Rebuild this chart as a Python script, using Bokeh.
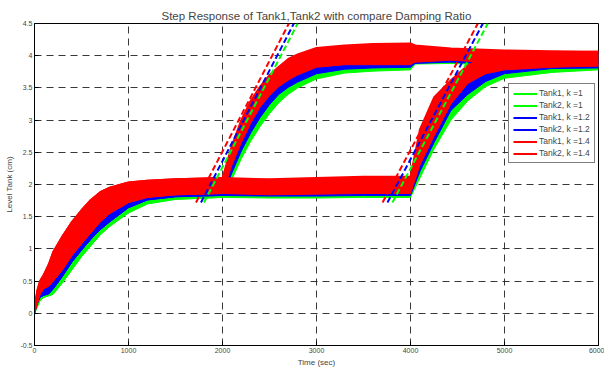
from bokeh.plotting import figure
from bokeh.models import Range1d, Legend, LegendItem, FixedTicker
from bokeh.embed import file_html
from bokeh.resources import INLINE

# ---------------- data ----------------
# Tank1: step 0->2 at t=0, 2->4 at t=2000
t_tank1 = [0, 30, 60, 100, 150, 200, 300, 400, 500, 600, 700, 800, 1000, 1200, 1500, 2000,
           2100, 2200, 2300, 2400, 2500, 2600, 2700, 2800, 3000, 3300, 3600, 4000,
           4050, 4430, 5000, 5500, 6000]
tank1_k14_lo = [0.0, 0.15, 0.30, 0.38, 0.42, 0.50, 0.68, 0.90, 1.08, 1.25, 1.42, 1.55, 1.72, 1.80, 1.84, 1.86,
                2.30, 2.65, 2.95, 3.20, 3.38, 3.52, 3.62, 3.70, 3.82, 3.86, 3.86, 3.86,
                3.90, 3.93, 3.88, 3.86, 3.84]
tank1_k14_hi = [0.05, 0.35, 0.50, 0.60, 0.75, 0.95, 1.20, 1.42, 1.60, 1.76, 1.88, 1.95, 2.03, 2.06, 2.08, 2.10,
                2.60, 3.00, 3.30, 3.52, 3.70, 3.83, 3.95, 4.02, 4.12, 4.16, 4.18, 4.19,
                4.16, 4.11, 4.08, 4.07, 4.06]
tank1_k12_lo = [0.0, 0.15, 0.25, 0.28, 0.30, 0.38, 0.58, 0.80, 0.98, 1.15, 1.30, 1.42, 1.64, 1.76, 1.81, 1.83,
                2.18, 2.52, 2.80, 3.04, 3.24, 3.40, 3.51, 3.59, 3.72, 3.79, 3.81, 3.82,
                3.88, 3.90, 3.86, 3.84, 3.83]
tank1_k12_hi = [0.03, 0.30, 0.40, 0.50, 0.62, 0.80, 1.05, 1.30, 1.48, 1.62, 1.75, 1.83, 1.93, 1.98, 2.02, 2.05,
                2.45, 2.82, 3.10, 3.32, 3.50, 3.63, 3.73, 3.80, 3.90, 3.98, 4.00, 4.02,
                4.06, 4.05, 4.04, 4.04, 4.04]
tank1_k1_lo = [0.0, 0.10, 0.20, 0.25, 0.27, 0.30, 0.48, 0.68, 0.88, 1.05, 1.22, 1.35, 1.56, 1.70, 1.77, 1.80,
               2.08, 2.40, 2.67, 2.90, 3.10, 3.27, 3.40, 3.50, 3.64, 3.73, 3.76, 3.78,
               3.87, 3.88, 3.85, 3.83, 3.82]
tank1_k1_hi = [0.02, 0.27, 0.30, 0.32, 0.45, 0.65, 0.92, 1.15, 1.35, 1.50, 1.62, 1.72, 1.85, 1.92, 1.97, 2.00,
               2.35, 2.68, 2.95, 3.18, 3.36, 3.50, 3.60, 3.68, 3.80, 3.92, 3.96, 3.98,
               4.03, 4.03, 4.02, 4.02, 4.02]

# Tank2: step 0->2 at t=0, 2->4 at t=4000
t_tank2 = [0, 30, 60, 100, 150, 200, 300, 400, 500, 600, 700, 800, 1000, 1200, 1500, 2000,
           2500, 3000, 3500, 4000, 4100, 4250, 4430, 4610, 4800, 5000, 5500, 6000]
tank2_k14_lo = [0.0, 0.15, 0.30, 0.38, 0.42, 0.50, 0.68, 0.90, 1.08, 1.25, 1.42, 1.55, 1.72, 1.80, 1.84, 1.86,
                1.84, 1.85, 1.86, 1.86, 2.30, 2.75, 3.25, 3.57, 3.72, 3.78, 3.82, 3.84]
tank2_k14_hi = [0.05, 0.35, 0.50, 0.60, 0.75, 0.95, 1.20, 1.42, 1.60, 1.76, 1.88, 1.95, 2.03, 2.06, 2.08, 2.10,
                2.08, 2.10, 2.12, 2.12, 2.85, 3.35, 3.62, 3.85, 3.98, 4.03, 4.05, 4.06]
tank2_k12_lo = [0.0, 0.15, 0.25, 0.28, 0.30, 0.38, 0.58, 0.80, 0.98, 1.15, 1.30, 1.42, 1.64, 1.76, 1.81, 1.83,
                1.82, 1.82, 1.83, 1.83, 2.20, 2.65, 3.15, 3.40, 3.60, 3.72, 3.80, 3.81]
tank2_k12_hi = [0.03, 0.30, 0.40, 0.50, 0.62, 0.80, 1.05, 1.30, 1.48, 1.62, 1.75, 1.83, 1.93, 1.98, 2.02, 2.05,
                2.04, 2.05, 2.06, 2.06, 2.60, 3.00, 3.30, 3.60, 3.75, 3.82, 3.88, 3.90]
tank2_k1_lo = [0.0, 0.10, 0.20, 0.25, 0.27, 0.30, 0.48, 0.68, 0.88, 1.05, 1.22, 1.35, 1.56, 1.70, 1.77, 1.80,
               1.79, 1.79, 1.80, 1.80, 2.10, 2.55, 3.00, 3.30, 3.52, 3.65, 3.74, 3.78]
tank2_k1_hi = [0.02, 0.27, 0.30, 0.32, 0.45, 0.65, 0.92, 1.15, 1.35, 1.50, 1.62, 1.72, 1.85, 1.92, 1.97, 2.00,
               1.99, 2.00, 2.01, 2.01, 2.45, 2.90, 3.20, 3.48, 3.68, 3.76, 3.83, 3.86]

# dashed tangent lines (order: k=1, k=1.2, k=1.4)
tan1_t_start = [1803, 1771, 1718]
tan1_t_end = [2800, 2759, 2706]
tan2_t_start = [3808, 3755, 3703]
tan2_t_end = [4822, 4770, 4716]
tan_y = [1.72, 4.5]

x_ticks = [0, 1000, 2000, 3000, 4000, 5000, 6000]
y_ticks = [-0.5, 0, 0.5, 1, 1.5, 2, 2.5, 3, 3.5, 4, 4.5]
y_tick_labels = {-0.5: "-0.5", 0: "0", 0.5: "0.5", 1: "1", 1.5: "1.5", 2: "2", 2.5: "2.5",
                 3: "3", 3.5: "3.5", 4: "4", 4.5: "4.5"}

colors = {"k1": "#00ff00", "k12": "#0000ff", "k14": "#ff0000"}
FONT = "Liberation Sans"

# ---------------- figure ----------------
p = figure(width=604, height=370, output_backend="svg", toolbar_location=None,
           x_range=Range1d(0, 6000), y_range=Range1d(-0.5, 4.5),
           min_border_left=34, min_border_right=6, min_border_bottom=25, min_border_top=23)
p.title.text = "Step Response of Tank1,Tank2 with compare Damping Ratio"
p.title.align = "center"
p.title.text_font = FONT
p.title.text_font_size = "11.5px"
p.title.text_font_style = "normal"
p.title.standoff = 4
p.title.offset = 0

p.background_fill_color = "white"
p.border_fill_color = "white"
p.outline_line_color = "black"
p.outline_line_width = 1

for ax in (p.xaxis[0], p.yaxis[0]):
    ax.axis_line_color = "black"
    ax.major_tick_in = 4
    ax.major_tick_out = 0
    ax.minor_tick_in = 0
    ax.minor_tick_out = 0
    ax.major_label_text_font = FONT
    ax.major_label_text_font_size = "7px"
    ax.axis_label_text_font = FONT
    ax.axis_label_text_font_size = "8px"
    ax.axis_label_text_font_style = "normal"

p.xaxis.ticker = FixedTicker(ticks=x_ticks)
p.yaxis.ticker = FixedTicker(ticks=y_ticks)
p.yaxis.major_label_overrides = y_tick_labels
p.xaxis.axis_label = "Time (sec)"
p.yaxis.axis_label = "Level Tank (cm)"
p.xaxis.major_label_standoff = 2
p.xaxis.axis_label_standoff = 2
p.yaxis.major_label_standoff = 2
p.yaxis.axis_label_standoff = 3

for g in (p.xgrid[0], p.ygrid[0]):
    g.grid_line_color = "#222222"
    g.grid_line_dash = "7 5"
    g.grid_line_width = 1
    g.grid_line_alpha = 0.9

# ---------------- bands ----------------
series = [
    ("Tank1, k =1", t_tank1, tank1_k1_lo, tank1_k1_hi, colors["k1"]),
    ("Tank2, k =1", t_tank2, tank2_k1_lo, tank2_k1_hi, colors["k1"]),
    ("Tank1, k =1.2", t_tank1, tank1_k12_lo, tank1_k12_hi, colors["k12"]),
    ("Tank2, k =1.2", t_tank2, tank2_k12_lo, tank2_k12_hi, colors["k12"]),
    ("Tank1, k =1.4", t_tank1, tank1_k14_lo, tank1_k14_hi, colors["k14"]),
    ("Tank2, k =1.4", t_tank2, tank2_k14_lo, tank2_k14_hi, colors["k14"]),
]

items = []
for name, t, lo, hi, c in series:
    p.varea(x=t, y1=lo, y2=hi, fill_color=c, fill_alpha=1.0)
    r = p.line(t, hi, line_color=c, line_width=2, line_alpha=1.0)
    p.line(t, lo, line_color=c, line_width=1)
    items.append(LegendItem(label=name, renderers=[r]))

# ---------------- dashed tangents ----------------
tan_colors = [colors["k1"], colors["k12"], colors["k14"]]
for ts, te, c in zip(tan1_t_start, tan1_t_end, tan_colors):
    p.line([ts, te], tan_y, line_color=c, line_width=2, line_dash="6 3")
for ts, te, c in zip(tan2_t_start, tan2_t_end, tan_colors):
    p.line([ts, te], tan_y, line_color=c, line_width=2, line_dash="6 3")

legend = Legend(items=items, location=(474, 182))
legend.label_text_font = FONT
legend.label_text_font_size = "8.5px"
legend.label_height = 9
legend.glyph_height = 9
legend.glyph_width = 24
legend.label_standoff = 2
legend.spacing = 2
legend.padding = 4
legend.margin = 0
legend.border_line_color = "black"
legend.border_line_width = 1
legend.background_fill_alpha = 1.0
p.add_layout(legend, "center")

open("out.html", "w").write(file_html(p, INLINE))
